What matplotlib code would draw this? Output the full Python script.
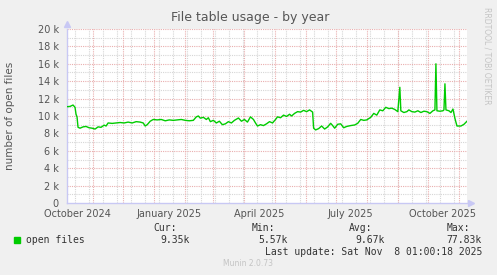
import datetime as dt
import matplotlib
matplotlib.use('Agg')
import matplotlib.pyplot as plt

# data: day offset from 2024-10-06, value in thousands
day = [0, 3, 6, 8, 9, 10, 11, 13, 16, 19, 22, 25, 28, 31, 34, 37, 39, 41, 45, 49,
       53, 57, 61, 65, 69, 73, 76, 78, 80, 83, 86, 90, 94, 98, 102, 106, 110, 114,
       118, 122, 126, 129, 131, 133, 136, 139, 141, 143, 146, 149, 152, 155, 158,
       161, 164, 167, 171, 174, 177, 180, 183, 186, 188, 190, 193, 196, 199, 202,
       205, 208, 210, 213, 216, 219, 222, 224, 227, 230, 233, 236, 239, 242, 245,
       246, 248, 251, 254, 257, 260, 263, 265, 267, 270, 273, 276, 279, 283, 287,
       290, 293, 296, 299, 303, 306, 309, 312, 315, 318, 321, 324, 327, 330, 332,
       333, 336, 339, 341, 344, 347, 350, 353, 356, 359, 362, 365, 367, 368, 369,
       372, 375, 376, 377, 378, 381, 383, 385, 387, 389, 393, 396, 399]
open_files = [11.07, 11.1, 11.26, 11.0, 10.2, 9.9, 8.7, 8.6, 8.75, 8.8, 8.65, 8.6,
              8.5, 8.75, 8.7, 8.95, 8.85, 9.2, 9.15, 9.2, 9.25, 9.2, 9.3, 9.2, 9.35,
              9.3, 9.2, 8.85, 9.0, 9.4, 9.6, 9.55, 9.6, 9.45, 9.55, 9.5, 9.55, 9.6,
              9.5, 9.45, 9.5, 9.9, 10.0, 9.75, 9.85, 9.6, 9.8, 9.35, 9.5, 9.2, 9.4,
              9.0, 9.1, 9.35, 9.2, 9.5, 9.77, 9.4, 9.6, 9.3, 9.9, 9.6, 9.2, 8.85,
              9.0, 8.9, 9.1, 9.35, 9.2, 9.6, 9.9, 9.8, 10.1, 9.95, 10.2, 10.0, 10.3,
              10.5, 10.45, 10.65, 10.5, 10.7, 10.45, 8.6, 8.4, 8.55, 8.85, 8.5,
              8.75, 9.16, 8.9, 8.6, 9.05, 9.1, 8.65, 8.8, 8.9, 8.97, 9.16, 9.6, 9.5,
              9.55, 9.85, 10.3, 10.1, 10.7, 10.6, 11.0, 10.85, 10.9, 10.75, 10.5,
              13.3, 10.6, 10.4, 10.5, 10.7, 10.5, 10.45, 10.6, 10.4, 10.55, 10.5,
              10.3, 10.6, 10.7, 16.0, 10.6, 10.55, 10.6, 10.7, 13.7, 10.7, 10.6,
              10.4, 10.8, 9.7, 8.85, 8.85, 9.05, 9.4]

base = dt.datetime(2024, 10, 6)
dates = [base + dt.timedelta(days=d) for d in day]

x_labels = ['October 2024', 'January 2025', 'April 2025', 'July 2025', 'October 2025']
label_dates = [dt.datetime(2024, 10, 16), dt.datetime(2025, 1, 16), dt.datetime(2025, 4, 16),
               dt.datetime(2025, 7, 16), dt.datetime(2025, 10, 16)]
y_ticks = list(range(0, 21, 2))
y_labels = [f'{v} k' if v else '0' for v in y_ticks]

W, H = 497, 275
fig = plt.figure(figsize=(W / 100, H / 100), dpi=100, facecolor='#F0F0F0')
ax = fig.add_axes([67 / W, 1 - 203 / H, 400 / W, 174 / H])
ax.set_facecolor('white')

red = '#E9AEAE'
grey = '#D6D6D6'
dots = (0, (1, 1))

# grid: red month starts, grey every other monday
for m in range(11, 24):
    d = dt.datetime(2024 + (m - 1) // 12, (m - 1) % 12 + 1, 1)
    ax.axvline(d, color=red, lw=0.8, ls=dots, zorder=1)
d = dt.datetime(2024, 10, 14)
while d < dt.datetime(2025, 11, 9):
    ax.axvline(d, color=grey, lw=0.8, ls=dots, zorder=0)
    d += dt.timedelta(days=14)
for v in range(1, 21):
    ax.axhline(v, color=red if v % 2 == 0 else grey, lw=0.8, ls=dots,
               zorder=1 if v % 2 == 0 else 0)

ax.plot(dates, open_files, color='#00CC00', lw=1.0, zorder=3)

ax.set_xlim(base, dt.datetime(2025, 11, 9))
ax.set_ylim(0, 20)
ax.set_xticks(label_dates)
ax.set_xticklabels(x_labels)
ax.set_yticks(y_ticks)
ax.set_yticklabels(y_labels)
ax.tick_params(length=0, labelsize=7, labelcolor='#555555')
ax.tick_params(axis='y', pad=6)
ax.tick_params(axis='x', pad=4.3)

for s in ['top', 'right']:
    ax.spines[s].set_visible(False)
for s in ['left', 'bottom']:
    ax.spines[s].set_color('#C8C8F4')
    ax.spines[s].set_linewidth(1)
ax.plot([0], [1.03], marker='^', ms=4, color='#C8C8F4', transform=ax.transAxes, clip_on=False)
ax.plot([1.01], [0], marker='>', ms=4, color='#C8C8F4', transform=ax.transAxes, clip_on=False)

fig.text(250 / W, 1 - 18 / H, 'File table usage - by year', ha='center', va='center',
         fontsize=9, color='#555555')
fig.text(10 / W, 1 - 116 / H, 'number of open files', rotation=90, ha='center', va='center',
         fontsize=7.5, color='#555555')
fig.text(487 / W, 1 - 7 / H, 'RRDTOOL / TOBI OETIKER', rotation=270, ha='center', va='top',
         fontsize=5.5, color='#C4C4C4')

mono = dict(family='DejaVu Sans Mono', fontsize=7, color='#333333', va='center')
fig.patches.append(plt.Rectangle((14 / W, 1 - 243 / H), 6 / W, 6 / H, color='#00CC00',
                                 transform=fig.transFigure, figure=fig))
fig.text(26 / W, 1 - 240 / H, 'open files', ha='left', **mono)
cols = [('Cur:', 177, '9.35k', 190), ('Min:', 275, '5.57k', 288),
        ('Avg:', 372, '9.67k', 385), ('Max:', 470, '77.83k', 482)]
for head, hx, val, vx in cols:
    fig.text(hx / W, 1 - 228 / H, head, ha='right', **mono)
    fig.text(vx / W, 1 - 240 / H, val, ha='right', **mono)
fig.text(482 / W, 1 - 252 / H, 'Last update: Sat Nov  8 01:00:18 2025', ha='right', **mono)
fig.text(248 / W, 1 - 264 / H, 'Munin 2.0.73', ha='center', va='center', fontsize=5.5,
         color='#C4C4C4')

fig.savefig('out.png', dpi=100, facecolor=fig.get_facecolor())
